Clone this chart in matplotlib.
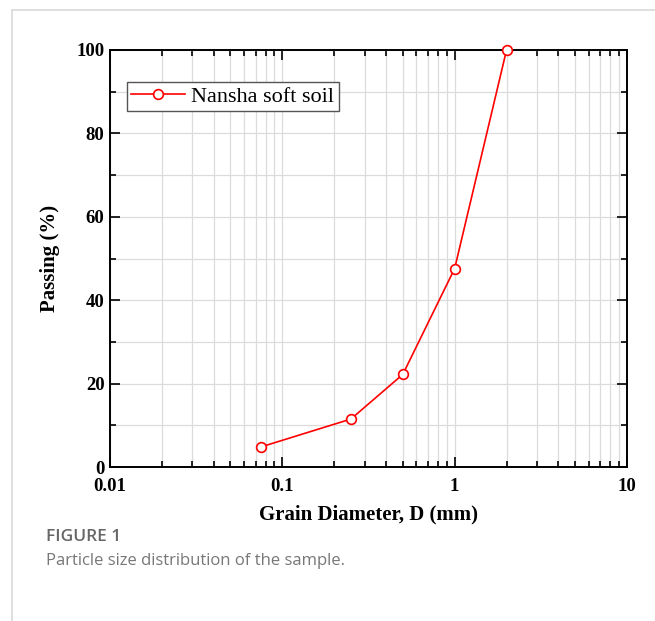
import matplotlib.pyplot as plt
from matplotlib.ticker import LogLocator, MultipleLocator, FixedLocator, FixedFormatter
from matplotlib.lines import Line2D

# datos de la curva granulometrica
diametro = [0.075, 0.25, 0.5, 1.0, 2.0]
pasa = [4.8, 11.5, 22.2, 47.6, 100.0]
xtick_vals = [0.01, 0.1, 1, 10]
xtick_labels = ["0.01", "0.1", "1", "10"]

plt.rcParams["font.family"] = ["Liberation Serif", "DejaVu Serif"]

fig = plt.figure(figsize=(6.55, 6.21), dpi=100)

# marco de la pagina
fig.add_artist(Line2D([12/655, 1], [1 - 10/621, 1 - 10/621], color="#d9d9d9", lw=1.2))
fig.add_artist(Line2D([12/655, 12/655], [0, 1 - 10/621], color="#d9d9d9", lw=1.2))

ax = fig.add_axes([110/655, 1 - 467/621, 517/655, 417/621])
ax.plot(diametro, pasa, color="red", lw=1.2, marker="o", markersize=7,
        markerfacecolor="white", markeredgecolor="red", markeredgewidth=1.2,
        label="Nansha soft soil", clip_on=False, zorder=5)

ax.set_xscale("log")
ax.set_xlim(0.01, 10)
ax.set_ylim(0, 100)
ax.xaxis.set_major_locator(FixedLocator(xtick_vals))
ax.xaxis.set_major_formatter(FixedFormatter(xtick_labels))
ax.xaxis.set_minor_locator(LogLocator(base=10, subs=range(2, 10)))
ax.yaxis.set_major_locator(MultipleLocator(20))
ax.yaxis.set_minor_locator(MultipleLocator(10))

ax.grid(True, which="both", color="#dcdcdc", lw=0.9)
ax.set_axisbelow(True)
ax.tick_params(which="both", direction="in", top=True, right=True, width=1.2)
ax.tick_params(which="major", length=7, labelsize=13.5)
ax.tick_params(which="minor", length=4)
ax.tick_params(axis="x", which="major", pad=8)
ax.tick_params(axis="y", which="major", pad=4)
for lab in ax.get_xticklabels() + ax.get_yticklabels():
    lab.set_fontweight("bold")
for s in ax.spines.values():
    s.set_linewidth(1.4)

ax.set_xlabel("Grain Diameter, D (mm)", fontsize=15, fontweight="bold", labelpad=7)
ax.set_ylabel("Passing (%)", fontsize=15, fontweight="bold", labelpad=12)

leg = ax.legend(loc="upper left", bbox_to_anchor=(0.02, 0.94), fontsize=16,
                fancybox=False, edgecolor="#555555", framealpha=1,
                handlelength=2.4, handletextpad=0.3, borderpad=0.2, borderaxespad=0.3)
leg.get_frame().set_linewidth(1.0)

# pie de figura
fig.text(46/655, 1 - 537/621, "FIGURE 1", fontsize=12.5, color="#666666",
         family=["Open Sans", "DejaVu Sans"], va="center", fontweight="semibold")
fig.text(46/655, 1 - 561/621, "Particle size distribution of the sample.", fontsize=12,
         color="#777777", family=["Open Sans", "DejaVu Sans"], va="center")

plt.savefig("out.png", dpi=100)
